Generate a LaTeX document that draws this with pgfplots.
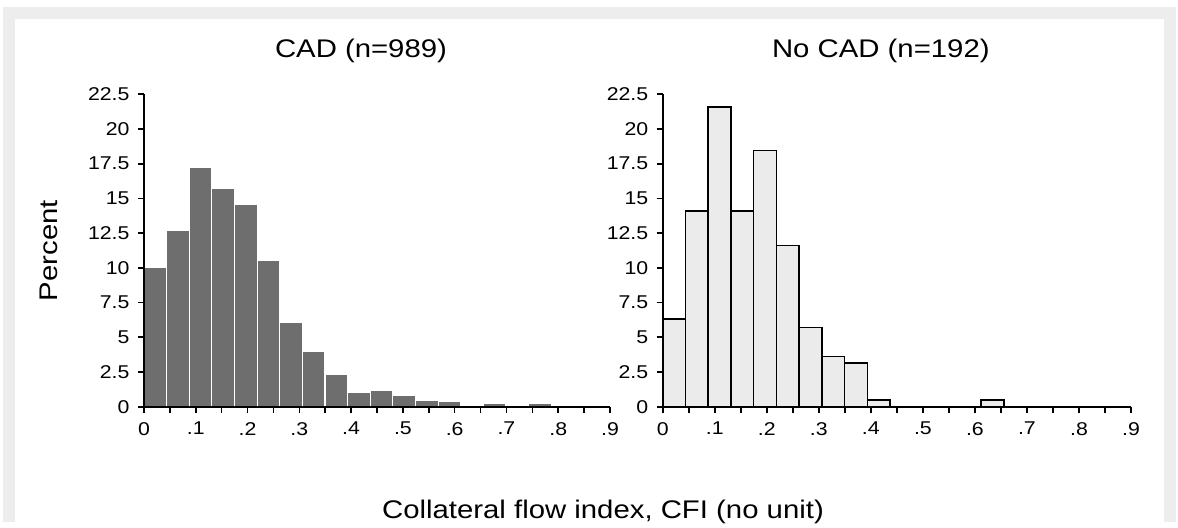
\documentclass[border=0pt]{standalone}
\usepackage{fontspec}
\setmainfont{Liberation Sans}[FakeStretch=1.15]
\usepackage{pgfplots}
\pgfplotsset{compat=1.18}
\definecolor{framegray}{HTML}{EDEDED}
\definecolor{cadbar}{HTML}{6E6E6E}
\definecolor{nocadbar}{HTML}{EBEBEB}

\pgfplotsset{histo/.style={
  scale only axis, height=312.4pt, anchor=south west,
  xmin=0, xmax=0.9, ymin=0, ymax=22.5,
  axis x line*=bottom, axis y line*=left, axis on top,
  axis line style={line width=1.6pt},
  tick align=outside, major tick length=6pt, minor tick length=6pt,
  every tick/.style={black, line width=1.6pt},
  every minor tick/.style={black, line width=1.6pt},
  xtick={0,0.1,0.2,0.3,0.4,0.5,0.6,0.7,0.8,0.9},
  minor xtick={0.05,0.15,0.25,0.35,0.45,0.55,0.65,0.75,0.85},
  xticklabels={0,.1,.2,.3,.4,.5,.6,.7,.8,.9},
  ytick={0,2.5,5,7.5,10,12.5,15,17.5,20,22.5},
  yticklabels={0,2.5,5,7.5,10,12.5,15,17.5,20,22.5},
  /pgf/number format/assume math mode=true,
  tick label style={font=\fontsize{18.5}{19}\selectfont},
  xticklabel style={yshift=-6pt},
  yticklabel style={xshift=-5pt},
  title style={font=\fontsize{25.5}{30}\selectfont, at={(0.5,1)}, anchor=base, yshift=31pt, xshift=-16pt},
  label style={font=\fontsize{25.5}{30}\selectfont},
}}

\begin{document}
\begin{tikzpicture}
\fill[white] (0pt,0pt) rectangle (1178pt,-522pt);
\fill[framegray] (3pt,-7pt) rectangle (1176pt,-522pt);
\fill[white] (15pt,-19pt) rectangle (1164pt,-522pt);

% CAD
\begin{axis}[histo, width=466pt, at={(144pt,-406.7pt)},
  title={CAD (n=989)},
  ylabel={Percent},
  ylabel style={at={(axis description cs:-0.204,0.5)}, anchor=center},
  ]
  \addplot[ybar interval, fill=cadbar, draw=white, line width=1.2pt]
  coordinates {
    (0.0000,10.00) (0.0437,12.70) (0.0874,17.25) (0.1311,15.75) (0.1748,14.55)
    (0.2185,10.55) (0.2622,6.10) (0.3059,4.00) (0.3496,2.35) (0.3933,1.06)
    (0.4370,1.20) (0.4807,0.80) (0.5244,0.48) (0.5681,0.36) (0.6118,0.10)
    (0.6555,0.22) (0.6992,0.10) (0.7429,0.22) (0.7866,0.10) (0.8303,0.10)
  };
\end{axis}

% No CAD
\begin{axis}[histo, width=468.3pt, at={(662.7pt,-406.7pt)},
  title={No CAD (n=192)},
  ]
  \addplot[ybar interval, fill=nocadbar, draw=black, line width=1.5pt]
  coordinates {
    (0.0000,6.30) (0.0437,14.10) (0.0874,21.60) (0.1311,14.10) (0.1748,18.45)
    (0.2185,11.60) (0.2622,5.72) (0.3059,3.62) (0.3496,3.15) (0.3933,0.50)
    (0.4370,0) (0.4807,0) (0.5244,0) (0.5681,0) (0.6118,0.50)
    (0.6555,0)
  };
\end{axis}

\node[font=\fontsize{25.5}{30}\selectfont, anchor=center] at (603pt,-512pt)
  {Collateral flow index, CFI (no unit)};
\end{tikzpicture}
\end{document}
